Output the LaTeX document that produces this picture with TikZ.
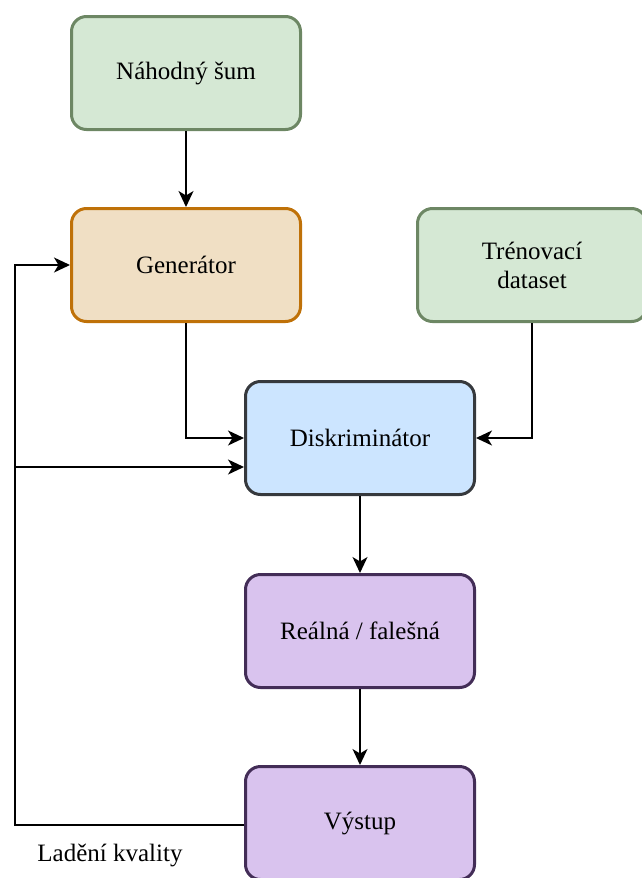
\documentclass[tikz,border=0pt]{standalone}
\usepackage{fontspec}
\setmainfont{Liberation Serif}[Ligatures=TeX]
\newfontfamily\boxfont{Liberation Serif}
\usetikzlibrary{arrows.meta}

\definecolor{greenfill}{HTML}{D5E8D4}
\definecolor{greenline}{HTML}{6D8764}
\definecolor{orangefill}{HTML}{F0DFC4}
\definecolor{orangeline}{HTML}{BF7108}
\definecolor{bluefill}{HTML}{CCE5FF}
\definecolor{blueline}{HTML}{36393D}
\definecolor{violetfill}{HTML}{D9C3EE}
\definecolor{violetline}{HTML}{432D57}

\tikzset{
  labeltext/.style={font=\boxfont\fontsize{25}{29}\selectfont},
  block/.style={draw, line width=3pt, rounded corners=15pt, minimum width=229pt,
    minimum height=113pt, align=center, labeltext, inner sep=0pt},
  greenbox/.style={block, fill=greenfill, draw=greenline},
  orangebox/.style={block, fill=orangefill, draw=orangeline},
  bluebox/.style={block, fill=bluefill, draw=blueline},
  violetbox/.style={block, fill=violetfill, draw=violetline},
  link/.style={line width=1.6pt, -{Stealth[length=16pt,width=15pt,inset=4.5pt]}}
}

\begin{document}
\begin{tikzpicture}[x=1pt,y=-1pt]
  \useasboundingbox (0,0) rectangle (642,878);
  \clip (0,0) rectangle (642,878);

  % boxes
  \node[greenbox]  (noise) at (186,73)  {Náhodný šum};
  \node[orangebox] (gen)   at (186,265) {Generátor};
  \node[greenbox]  (data)  at (532,265) {Trénovací\\dataset};
  \node[bluebox]   (disc)  at (360,438) {Diskriminátor};
  \node[violetbox] (real)  at (360,631) {Reálná / falešná};
  \node[violetbox] (out)   at (360,823) {Výstup};

  % feedback route along the left edge
  \coordinate (corner) at (15,825);
  \coordinate (split)  at (15,467);

  % connectors
  \draw[link] (noise.south) -- (gen.north);
  \draw[link] (gen.south) |- (disc.west);
  \draw[link] (data.south) |- (disc.east);
  \draw[link] (disc.south) -- (real.north);
  \draw[link] (real.south) -- (out.north);
  \draw[link] (out.west |- corner) -- (corner) |- (gen.west);
  \draw[link] (split) -- (split -| disc.west);

  \node[labeltext] (tune) at (110,855) {Ladění kvality};
\end{tikzpicture}
\end{document}
